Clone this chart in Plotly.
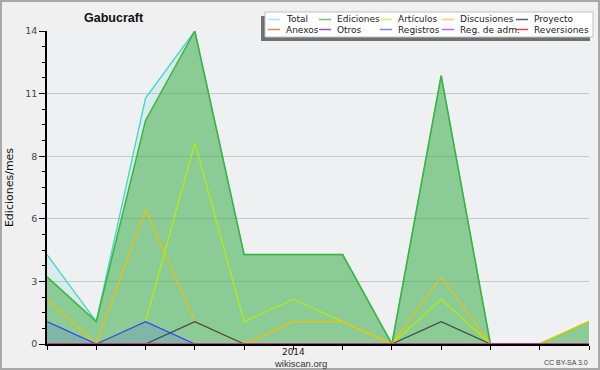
import plotly.graph_objects as go

# ---------------- data ----------------
months = ["2013-08", "2013-09", "2013-10", "2013-11", "2013-12", "2014-01",
          "2014-02", "2014-03", "2014-04", "2014-05", "2014-06", "2014-07"]
x_tick_text = ["", "", "", "", "", "2014", "", "", "", "", "", ""]

total = [4, 1, 11, 14, 4, 4, 4, 0, 12, 0, 0, 1]
ediciones = [3, 1, 10, 14, 4, 4, 4, 0, 12, 0, 0, 1]
articulos = [0, 0, 1, 9, 1, 2, 1, 0, 2, 0, 0, 1]
discusiones = [2, 0, 6, 1, 0, 1, 1, 0, 3, 0, 0, 1]
proyecto = [0, 0, 0, 1, 0, 0, 0, 0, 1, 0, 0, 0]
anexos = [0, 0, 0, 0, 0, 0, 0, 0, 0, 0, 0, 0]
otros = [0, 0, 0, 0, 0, 0, 0, 0, 0, 0, 0, 0]
registros = [1, 0, 1, 0, 0, 0, 0, 0, 0, 0, 0, 0]
reg_adm = [0, 0, 0, 0, 0, 0, 0, 0, 0, 0, 0, 0]
reversiones = [0, 0, 0, 0, 0, 0, 0, 0, 0, 0, 0, 0]

y_tick_vals = [0, 2.8, 5.6, 8.4, 11.2, 14]
y_tick_text = ["0", "3", "6", "8", "11", "14"]

series_names = ["Total", "Ediciones", "Artículos", "Discusiones", "Proyecto",
                "Anexos", "Otros", "Registros", "Reg. de adm.", "Reversiones"]
series_values = [total, ediciones, articulos, discusiones, proyecto,
                 anexos, otros, registros, reg_adm, reversiones]

# ---------------- styles ----------------
line_colors = ["#3fd6cc", "#3cb43c", "#b4f000", "#f2c200", "#444444",
               "#f07040", "#8040e0", "#3040ff", "#d040e0", "#e83030"]
legend_colors = ["#a8e8e4", "#6cc46c", "#d4f060", "#ffd060", "#606060",
                 "#f08050", "#9050e0", "#8080ff", "#d060e0", "#e84040"]
fills = {"Total": "rgba(64,216,208,0.12)",
         "Ediciones": "rgba(55,170,55,0.48)",
         "Registros": "rgba(51,68,255,0.15)"}
line_widths = {"Total": 1.3, "Ediciones": 1.5}

W, H = 600, 370
ML, MR, MT, MB = 47, 11, 31, 26
PW, PH = W - ML - MR, H - MT - MB


def px(xp):
    return (xp - ML) / PW


def py(yp):
    return (H - MB - yp) / PH


fig = go.Figure()
for name, vals, col in zip(series_names, series_values, line_colors):
    fig.add_trace(go.Scatter(
        x=months, y=vals, mode="lines", name=name,
        line=dict(color=col, width=line_widths.get(name, 1.2)),
        fill="tozeroy" if name in fills else None,
        fillcolor=fills.get(name),
        showlegend=False, hoverinfo="skip",
    ))

shapes = []
annotations = []

# outer border
shapes.append(dict(type="rect", xref="paper", yref="paper",
                   x0=px(1), x1=px(599), y0=py(1), y1=py(369),
                   line=dict(color="#a8a8a8", width=2), fillcolor="rgba(0,0,0,0)",
                   layer="above"))

# manual legend (shadow + box)
shapes.append(dict(type="rect", xref="paper", yref="paper",
                   x0=px(261), x1=px(590), y0=py(16), y1=py(41),
                   line=dict(width=0), fillcolor="#707070", layer="above"))
shapes.append(dict(type="rect", xref="paper", yref="paper",
                   x0=px(265), x1=px(593), y0=py(12), y1=py(37),
                   line=dict(color="#c0c0c0", width=1), fillcolor="#ffffff",
                   layer="above"))

col_x = [268, 319, 380, 442, 516]
row_y = [19.5, 29.5]
for i, (name, col) in enumerate(zip(series_names, legend_colors)):
    r, c = divmod(i, 5)
    x0 = col_x[c]
    yc = row_y[r]
    shapes.append(dict(type="line", xref="paper", yref="paper",
                       x0=px(x0), x1=px(x0 + 12), y0=py(yc), y1=py(yc),
                       line=dict(color=col, width=1.5), layer="above"))
    annotations.append(dict(xref="paper", yref="paper", x=px(x0 + 16), y=py(yc),
                            text=name, showarrow=False, xanchor="left",
                            yanchor="middle",
                            font=dict(family="DejaVu Sans", size=9, color="#222222")))

# title
annotations.append(dict(xref="paper", yref="paper", x=px(114), y=py(18),
                        text="<b>Gabucraft</b>", showarrow=False,
                        xanchor="center", yanchor="middle",
                        font=dict(family="Liberation Sans", size=12.5, color="#111111")))
# footer texts
annotations.append(dict(xref="paper", yref="paper", x=px(300), y=py(363),
                        text="wikiscan.org", showarrow=False,
                        xanchor="center", yanchor="middle",
                        font=dict(family="Liberation Sans", size=9.5, color="#333333")))
annotations.append(dict(xref="paper", yref="paper", x=px(590), y=py(362),
                        text="CC BY-SA 3.0", showarrow=False,
                        xanchor="right", yanchor="middle",
                        font=dict(family="Liberation Sans", size=7, color="#444444")))

fig.update_layout(
    width=W, height=H,
    margin=dict(l=ML, r=MR, t=MT, b=MB, pad=0, autoexpand=False),
    paper_bgcolor="#f0f0f0",
    plot_bgcolor="#eef0f2",
    showlegend=False,
    shapes=shapes,
    annotations=annotations,
    xaxis=dict(
        type="category", range=[0, len(months) - 1], automargin=False,
        tickmode="array", tickvals=months, ticktext=x_tick_text,
        ticks="outside", ticklen=4, tickwidth=1, tickcolor="#000000",
        ticklabelstandoff=-6,
        showline=True, linecolor="#000000", linewidth=1.5,
        showgrid=False, zeroline=False, layer="above traces",
        tickfont=dict(family="DejaVu Sans", size=9, color="#222222"),
        fixedrange=True,
    ),
    yaxis=dict(
        range=[0, 14], automargin=False,
        tickmode="array", tickvals=y_tick_vals, ticktext=y_tick_text,
        ticks="outside", ticklen=6, tickwidth=1, tickcolor="#000000",
        minor=dict(tickmode="linear", tick0=0, dtick=0.7, ticks="outside",
                   ticklen=3.5, tickcolor="#000000", showgrid=False),
        showline=True, linecolor="#000000", linewidth=1.5,
        showgrid=True, gridcolor="#c8c8c8", gridwidth=1,
        zeroline=False, layer="above traces",
        tickfont=dict(family="DejaVu Sans", size=9.5, color="#444444"),
        title=dict(text="Ediciones/mes", standoff=9,
                   font=dict(family="DejaVu Sans", size=11, color="#111111")),
        fixedrange=True,
    ),
)

fig.write_html(
    "out.html",
    config={"displayModeBar": False},
    post_script="document.body.style.margin='0';document.body.style.padding='0';",
)
